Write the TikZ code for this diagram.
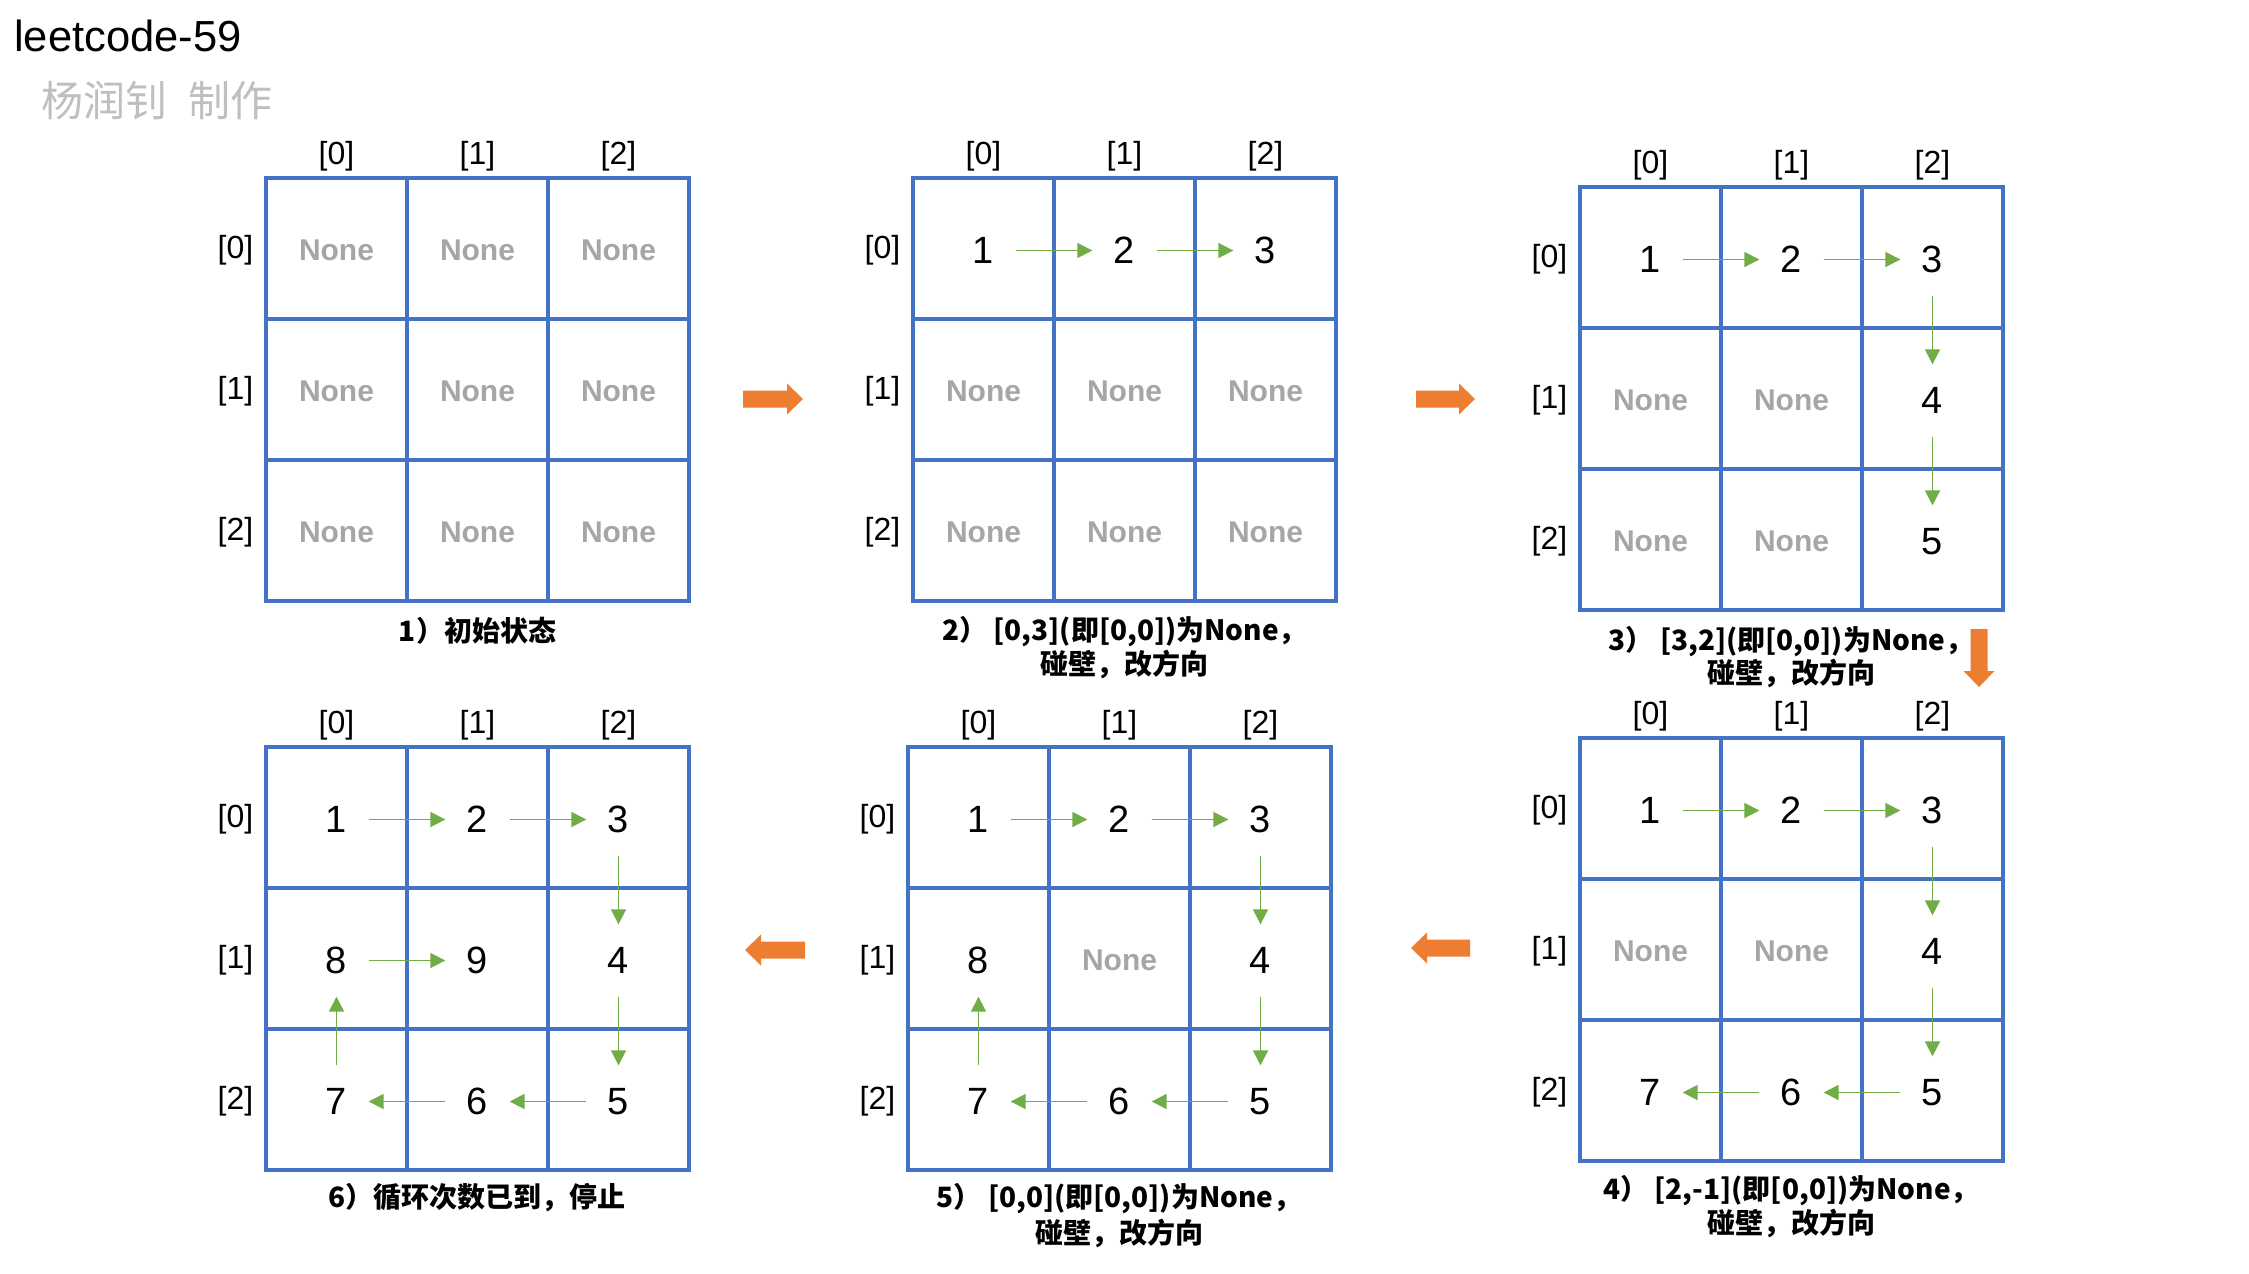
\documentclass[tikz,border=0pt]{standalone}
\usepackage{fontspec}
\setmainfont{Liberation Sans}
\newfontfamily\cjkfont{Noto Sans CJK SC}
\usetikzlibrary{arrows.meta}
\definecolor{gridblue}{HTML}{4472C4}
\definecolor{flowgreen}{HTML}{70AD47}
\definecolor{turnorange}{HTML}{ED7D31}
\definecolor{nonegray}{HTML}{A6A6A6}
\definecolor{signgray}{HTML}{BFBFBF}
\newcommand{\none}{\textcolor{nonegray}{\bfseries\fontsize{30}{36}\selectfont None}}

\begin{document}
\begin{tikzpicture}[x=1pt,y=-1pt,
    board/.style={draw=gridblue,line width=4.2pt},
    idx/.style={font=\fontsize{32}{38}\selectfont,inner sep=0pt},
    val/.style={font=\fontsize{38}{44}\selectfont,inner sep=0pt,
                minimum width=64pt,minimum height=72pt},
    flow/.style={draw=flowgreen,line width=1.8pt,->,>={Triangle[length=15pt,width=15pt]}},
    caption/.style={font=\cjkfont\bfseries\fontsize{28}{34}\selectfont,inner sep=0pt,anchor=base},
    bigarrow/.style={fill=turnorange}]
\fill[white] (0,0) rectangle (2249,1274);
\useasboundingbox (0,0) rectangle (2249,1274);

\node[anchor=base west,inner sep=0pt,font=\fontsize{43.5}{50}\selectfont] (title) at (14,51) {leetcode-59};
\node[anchor=base west,inner sep=0pt,text=signgray,font=\cjkfont\fontsize{42}{48}\selectfont] (sign) at (41,116) {杨润钊\hspace{0.5em}制作};

% the six boards
\foreach \k/\ox/\oy/\vals in {
    1/266/178/{\none,\none,\none,\none,\none,\none,\none,\none,\none},
    2/913/178/{1,2,3,\none,\none,\none,\none,\none,\none},
    3/1580/187/{1,2,3,\none,\none,4,\none,\none,5},
    4/1580/738/{1,2,3,\none,\none,4,7,6,5},
    5/908/747/{1,2,3,8,\none,4,7,6,5},
    6/266/747/{1,2,3,8,9,4,7,6,5}}{
  \draw[board] (\ox,\oy) rectangle ++(423,423);
  \foreach \i in {1,2}{
    \draw[board] (\ox+\i*141,\oy) -- ++(0,423);
    \draw[board] (\ox,\oy+\i*141) -- ++(423,0);
  }
  \foreach \i in {0,1,2}{
    \node[idx] (col\k-\i) at (\ox+70.5+\i*141,\oy-22) {[\i]};
    \node[idx] (row\k-\i) at (\ox-30.5,\oy+72.5+\i*141) {[\i]};
  }
  \foreach \cellval [count=\n from 0] in \vals{
    \pgfmathtruncatemacro\vr{\n/3}
    \pgfmathtruncatemacro\vc{mod(\n,3)}
    \node[val] (v\k-\vr\vc) at (\ox+70.5+\vc*141,\oy+72.5+\vr*141) {\cellval};
  }
}

% spiral steps
\foreach \k/\m in {2/2,3/4,4/6,5/7,6/8}
  \foreach \a/\b [count=\j] in {00/01,01/02,02/12,12/22,22/21,21/20,20/10,10/11}{
    \ifnum\j>\m\relax\else\draw[flow] (v\k-\a) -- (v\k-\b);\fi
  }

% arrows between boards
\foreach \ax/\ay/\rot/\len in {743/399/0/60,1416/399/0/59,1979/629/-90/58,1470/948/180/59,805/950/180/60}
  \fill[bigarrow,shift={(\ax,\ay)},rotate=\rot] (0,-8.5) -- (\len-16,-8.5) -- (\len-16,-15.5)
    -- (\len,0) -- (\len-16,15.5) -- (\len-16,8.5) -- (0,8.5) -- cycle;

\node[caption] (cap1) at (477.5,641) {1）初始状态};
\node[caption] (cap2a) at (1124.5,640) {2） [0,3](即[0,0])为None，};
\node[caption] (cap2b) at (1124.5,674) {碰壁，改方向};
\node[caption] (cap3a) at (1791,650) {3） [3,2](即[0,0])为None，};
\node[caption] (cap3b) at (1791,683) {碰壁，改方向};
\node[caption] (cap4a) at (1791,1199.5) {4） [2,-1](即[0,0])为None，};
\node[caption] (cap4b) at (1791,1233.5) {碰壁，改方向};
\node[caption] (cap5a) at (1119,1207) {5） [0,0](即[0,0])为None，};
\node[caption] (cap5b) at (1119,1243) {碰壁，改方向};
\node[caption] (cap6) at (477,1207) {6）循环次数已到，停止};
\end{tikzpicture}
\end{document}
